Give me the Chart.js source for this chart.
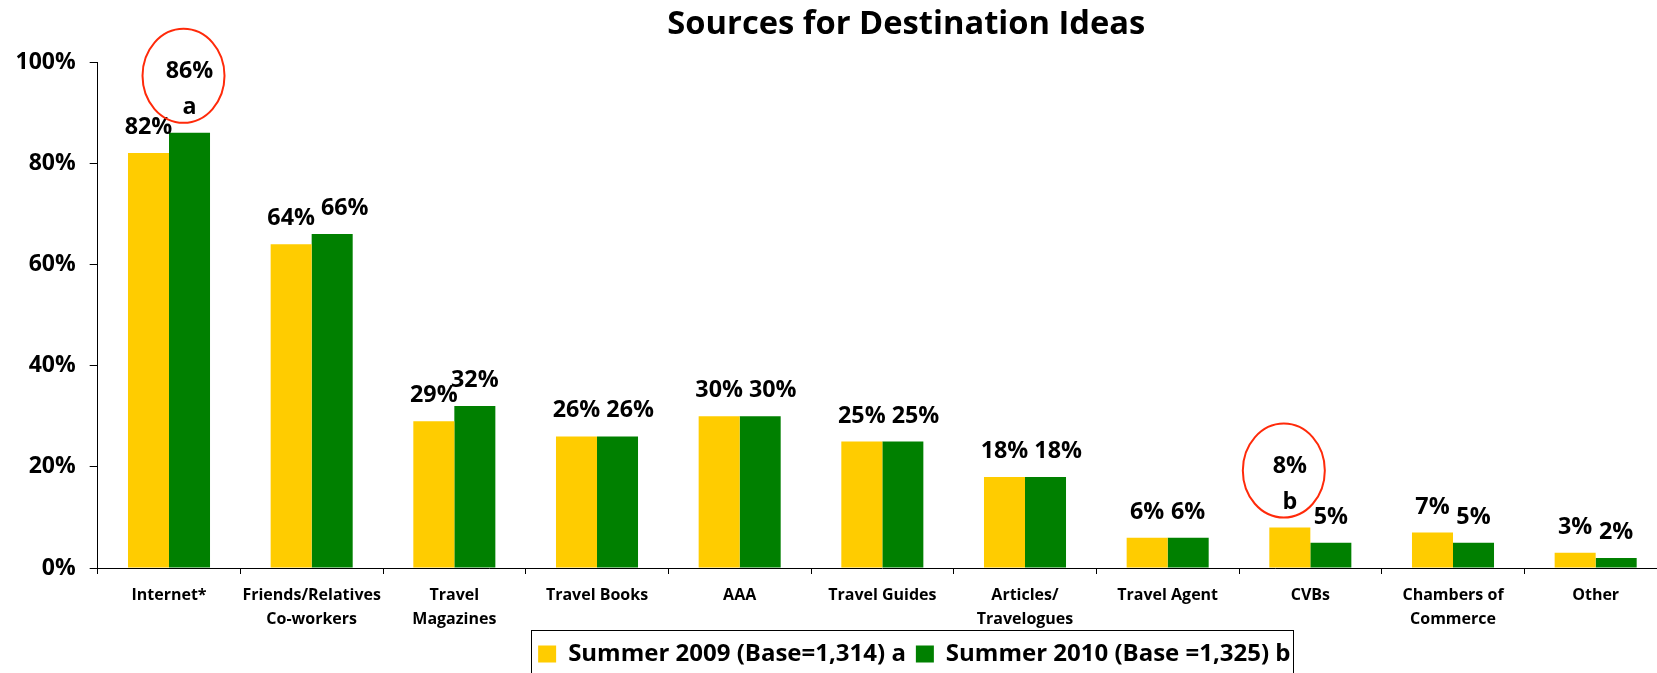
<!DOCTYPE html>
<html>
<head>
<meta charset="utf-8">
<title>Sources for Destination Ideas</title>
<script src="https://cdn.jsdelivr.net/npm/chart.js@4.4.1/dist/chart.umd.min.js"></script>
<style>
    html, body { margin: 0; padding: 0; background: #fff; overflow: hidden; }
    .chart-wrap { position: relative; width: 1680px; height: 690px; }
</style>
</head>
<body>
<div class="chart-wrap">
    <canvas id="sources-chart"></canvas>
</div>
<script>
// Chart data
const categories = [
    'Internet*',
    ['Friends/Relatives', 'Co-workers'],
    ['Travel', 'Magazines'],
    'Travel Books',
    'AAA',
    'Travel Guides',
    ['Articles/', 'Travelogues'],
    'Travel Agent',
    'CVBs',
    ['Chambers of', 'Commerce'],
    'Other'
];
const summer2009 = [82, 64, 29, 26, 30, 25, 18, 6, 8, 7, 3];
const summer2010 = [86, 66, 32, 26, 30, 25, 18, 6, 5, 5, 2];
const seriesNames = ['Summer 2009 (Base=1,314) a', 'Summer 2010 (Base =1,325) b'];
const yMax = 100;
const yStep = 20;

// significant differences: letter printed under the value, circled in red
const sigMarks = [
    { dataset: 1, index: 0, letter: 'a' },
    { dataset: 0, index: 8, letter: 'b' }
];

const FONT = "'Open Sans', sans-serif";
Chart.defaults.font.family = FONT;
Chart.defaults.color = '#000';


// Value labels above the bars (+ circled letters)
const valueLabels = {
    id: 'valueLabels',
    afterDatasetsDraw(chart) {
        const ctx = chart.ctx;
        const bars0 = chart.getDatasetMeta(0).data;
        ctx.save();
        ctx.font = 'bold 23.3px ' + FONT;
        ctx.fillStyle = '#000';
        ctx.textAlign = 'center';
        ctx.textBaseline = 'alphabetic';
        chart.data.datasets.forEach((ds, di) => {
            chart.getDatasetMeta(di).data.forEach((bar, i) => {
                const text = ds.data[i] + '%';
                let x = bar.x;
                // push the second label right when it would run into the first one
                if (di === 1 && Math.abs(bars0[i].y - bar.y) < 12) {
                    const w0 = ctx.measureText(summer2009[i] + '%').width;
                    const w1 = ctx.measureText(text).width;
                    x = Math.max(x, bars0[i].x + w0 / 2 + 6 + w1 / 2);
                }
                let y = bar.y - 19;
                const mark = sigMarks.find(m => m.dataset === di && m.index === i);
                if (mark) {
                    ctx.fillText(mark.letter, x, y);
                    y -= 36;
                    ctx.beginPath();
                    ctx.ellipse(bar.x - 6, bar.y - 57, 41, 47, 0, 0, Math.PI * 2);
                    ctx.strokeStyle = '#ff2a0a';
                    ctx.lineWidth = 2;
                    ctx.stroke();
                }
                ctx.fillText(text, x, y);
            });
        });
        ctx.restore();
    }
};

// Title and legend sit a bit right of the plot centre
const titleShift = 24;
const legendShift = 32;
const shiftBlocks = {
    id: 'shiftBlocks',
    afterLayout(chart) {
        chart.titleBlock.left += titleShift;
        chart.titleBlock.right += titleShift;
        chart.legend.left += legendShift;
        chart.legend.right += legendShift;
    }
};

// Frame round the legend items
const legendFrame = {
    id: 'legendFrame',
    afterDraw(chart) {
        const legend = chart.legend;
        const boxes = legend.legendHitBoxes;
        if (!boxes || !boxes.length) return;
        const first = boxes[0];
        const last = boxes[boxes.length - 1];
        const x0 = first.left - 7;
        const x1 = last.left + last.width + 3;
        const ctx = chart.ctx;
        ctx.save();
        ctx.strokeStyle = '#000';
        ctx.lineWidth = 1;
        ctx.strokeRect(Math.round(x0) + 0.5, Math.round(legend.top - 2.3) + 0.5, Math.round(x1 - x0), legend.height + 20);
        ctx.restore();
    }
};


// Sources chart
var ctx1 = document.getElementById('sources-chart').getContext('2d');
var myChart1 = new Chart(ctx1, {
    type: 'bar',
    data: {
        labels: categories,
        datasets: [{
                label: seriesNames[0],
                data: summer2009,
                backgroundColor: '#ffcc00'
            },
            {
                label: seriesNames[1],
                data: summer2010,
                backgroundColor: '#008000'
            }
        ]
    },
    options: {
        responsive: true,
        maintainAspectRatio: false,
        animation: false,
        events: [],
        categoryPercentage: 0.575,
        barPercentage: 1,
        layout: {
            padding: { top: 0, left: 1.5, right: 13, bottom: 14 }
        },
        plugins: {
            title: {
                display: true,
                text: 'Sources for Destination Ideas',
                fullSize: false,
                color: '#000',
                font: { size: 32.7, weight: 'bold' },
                padding: { top: 5, bottom: 17.8 }
            },
            legend: {
                position: 'bottom',
                fullSize: false,
                labels: {
                    boxWidth: 18,
                    boxHeight: 17,
                    padding: 10,
                    color: '#000',
                    font: { size: 24, weight: 'bold' }
                }
            },
            tooltip: { enabled: false }
        },
        scales: {
            x: {
                grid: {
                    drawOnChartArea: false,
                    drawTicks: true,
                    tickLength: 6,
                    color: '#000'
                },
                border: { color: '#000', width: 1 },
                ticks: {
                    color: '#000',
                    autoSkip: false,
                    maxRotation: 0,
                    padding: 9,
                    font: { size: 16, weight: 'bold', lineHeight: 1.5 }
                },
                afterFit: scale => { scale.height = 64; }
            },
            y: {
                min: 0,
                max: yMax,
                grid: {
                    drawOnChartArea: false,
                    drawTicks: true,
                    tickLength: 8,
                    color: '#000'
                },
                border: { color: '#000', width: 1 },
                ticks: {
                    stepSize: yStep,
                    padding: 14,
                    color: '#000',
                    font: { size: 23, weight: 'bold' },
                    callback: v => v + '%'
                }
            }
        }
    },
    plugins: [valueLabels, shiftBlocks, legendFrame]
});
</script>
</body>
</html>
